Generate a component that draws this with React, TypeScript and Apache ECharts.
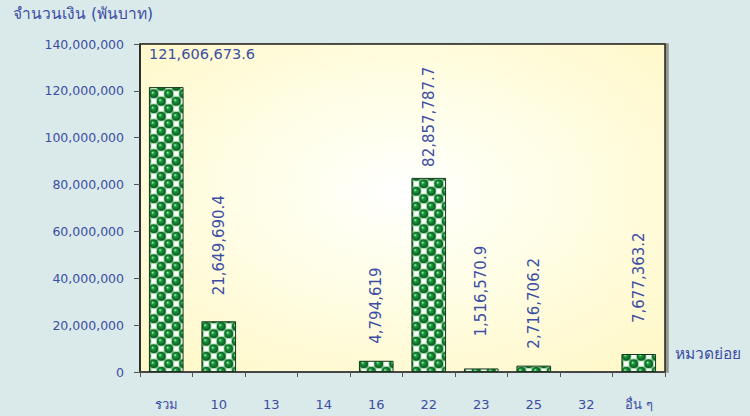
import React, { useEffect, useRef } from "react";
import * as echarts from "echarts";

const categories = ["รวม", "10", "13", "14", "16", "22", "23", "25", "32", "อื่น ๆ"];
const values = [121606673.6, 21649690.4, 0, 0, 4794619, 82857787.7, 1516570.9, 2716706.2, 0, 7677363.2];
const valueLabels = ["121,606,673.6", "21,649,690.4", "", "", "4,794,619", "82,857,787.7", "1,516,570.9", "2,716,706.2", "", "7,677,363.2"];
const yTicks = [0, 20000000, 40000000, 60000000, 80000000, 100000000, 120000000, 140000000];
const labelGaps = [0, 26, 0, 0, 17, 11, 32, 17, 0, 31];

const BLUE = "#3b4ea3";
const FONT = "'DejaVu Sans', Verdana, Tahoma, sans-serif";

function makePattern(): string {
  const S = 15;
  const h = S / 2;
  const c = document.createElement("canvas");
  c.width = S;
  c.height = S;
  const g = c.getContext("2d")!;
  g.fillStyle = "#5fae6e";
  g.fillRect(0, 0, S, S);
  // light cells with white square
  const whiteCell = (x: number, y: number) => {
    g.fillStyle = "#c8ecc8";
    g.fillRect(x + 0.8, y + 0.8, h - 1.6, h - 1.6);
    g.fillStyle = "#ffffff";
    g.fillRect(x + 1.8, y + 1.8, h - 3.6, h - 3.6);
  };
  whiteCell(h, 0);
  whiteCell(0, h);
  const ball = (cx: number, cy: number) => {
    const gr = g.createRadialGradient(cx - 1.3, cy - 1.3, 0.3, cx, cy, 4.3);
    gr.addColorStop(0, "#9be8aa");
    gr.addColorStop(0.3, "#1d9a3e");
    gr.addColorStop(0.8, "#0b6a28");
    gr.addColorStop(1, "#08501c");
    g.fillStyle = gr;
    g.beginPath();
    g.arc(cx, cy, 4.3, 0, Math.PI * 2);
    g.fill();
  };
  const c0 = h / 2;
  const c1 = h + h / 2;
  ball(c0, c0);
  ball(c1, c1);
  ball(c1 - S, c1 - S);
  ball(c1, c1 - S);
  ball(c1 - S, c1);
  ball(c0 + S, c0);
  ball(c0, c0 + S);
  ball(c0 + S, c0 + S);
  return c.toDataURL();
}

export default function App() {
  const ref = useRef<HTMLDivElement>(null);
  useEffect(() => {
    if (!ref.current) return;
    const chart = echarts.init(ref.current, undefined, { renderer: "svg" });
    const pattern = { image: makePattern(), repeat: "repeat" as const };
    const data = values.map((v, i) => {
      if (i === 0) {
        return {
          value: v,
          label: {
            show: true,
            rotate: 0,
            fontSize: 14.5,
            position: [0, -33] as [number, number],
            align: "left",
            verticalAlign: "middle",
          },
        };
      }
      if (v === 0) {
        return { value: v, itemStyle: { opacity: 0 }, label: { show: false } };
      }
      return { value: v, label: { distance: labelGaps[i] } };
    });
    chart.setOption({
      animation: false,
      backgroundColor: "#dae9ea",
      grid: {
        left: 140,
        right: 85,
        top: 44,
        bottom: 44,
        show: true,
        borderColor: "#222",
        borderWidth: 1.5,
        backgroundColor: new echarts.graphic.RadialGradient(0.5, 0.45, 0.7, [
          { offset: 0, color: "#ffffff" },
          { offset: 0.25, color: "#fffff0" },
          { offset: 1, color: "#fff8c8" },
        ]),
        shadowColor: "rgba(80,70,40,0.5)",
        shadowOffsetX: 3,
        shadowBlur: 0,
      },
      xAxis: {
        type: "category",
        data: categories,
        axisLine: { lineStyle: { color: "#444", width: 1.5 } },
        axisTick: { show: true, alignWithLabel: false, length: 5, lineStyle: { color: "#555" } },
        axisLabel: { color: BLUE, fontSize: 13, fontFamily: FONT, margin: 26 },
      },
      yAxis: {
        type: "value",
        min: 0,
        max: 140000000,
        interval: 20000000,
        axisLine: { show: true, lineStyle: { color: "#222", width: 1.5 } },
        axisTick: { show: true, length: 6, lineStyle: { color: "#555" } },
        splitLine: { show: false },
        axisLabel: {
          color: BLUE,
          fontSize: 12.5,
          fontFamily: FONT,
          margin: 16,
          formatter: (v: number) => (yTicks.includes(v) ? v.toLocaleString("en-US") : ""),
        },
      },
      graphic: [
        {
          type: "text",
          left: 13,
          top: 6,
          style: { text: "จำนวนเงิน (พันบาท)", fill: BLUE, font: `15.5px ${FONT}` },
        },
        {
          type: "text",
          left: 675,
          top: 346,
          style: { text: "หมวดย่อย", fill: BLUE, font: `15.5px ${FONT}` },
        },
      ],
      series: [
        {
          type: "bar",
          data,
          barWidth: "66%",
          itemStyle: { color: pattern, borderColor: "#143a1c", borderWidth: 1 },
          label: {
            show: true,
            position: "top",
            rotate: 90,
            align: "left",
            verticalAlign: "middle",
            distance: 16,
            color: BLUE,
            fontSize: 15,
            fontFamily: FONT,
            formatter: (p: any) => valueLabels[p.dataIndex],
          },
        },
      ],
    });
    return () => chart.dispose();
  }, []);
  return <div ref={ref} style={{ width: 750, height: 416, position: "absolute", left: 0, top: 0 }} />;
}
